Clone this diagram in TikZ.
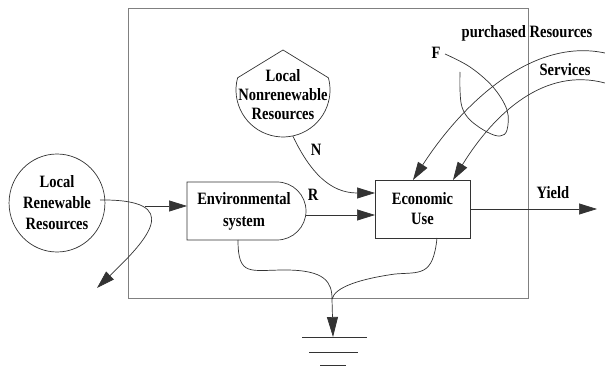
\documentclass[tikz,border=0pt]{standalone}
\usepackage{fontspec}
\setmainfont{Liberation Serif}[FakeStretch=0.84]
\usetikzlibrary{arrows.meta,shapes.geometric}
\begin{document}
\begin{tikzpicture}[x=1pt,y=1pt,
  lbl/.style={font=\fontsize{17.3}{19}\selectfont\bfseries, align=center, inner sep=0pt},
  ln/.style={draw=black!80, line width=0.7pt},
  arr/.style={ln, -{Triangle[length=18pt,width=11pt]}},
  garr/.style={ln, -{Triangle[length=20pt,width=11pt]}}
  ]
\useasboundingbox (0,0) rectangle (605,367);
% frame
\draw[black!50, line width=0.9pt] (128,69) rectangle (528,359);
% renewable source
\node[ellipse, ln, minimum width=86pt, minimum height=98pt, lbl] (ren) at (57,164) {Local\\[2pt]Renewable\\[2pt]Resources};
\coordinate (renE) at (100,167);
\coordinate (branch) at (145,161);
\coordinate (out) at (97,79);
% environmental system
\draw[ln] (187,185) -- (277,185) arc[start angle=90,end angle=-90,radius=29] -- (187,127) -- cycle;
\node[lbl] (env) at (244,156) {Environmental\\[3pt]system};
\coordinate (envW) at (187,161);
\coordinate (envE) at (306,152);
\coordinate (envS) at (238,127);
% nonrenewable tank
\draw[ln] (283,317) -- (237.6,289.2) arc[start angle=165,end angle=375,radius=47] -- cycle;
\node[lbl] (tank) at (283,272) {Local\\Nonrenewable\\Resources};
\coordinate (tankS) at (292.8,231);
% economic use
\node[rectangle, ln, minimum width=95pt, minimum height=58pt, lbl] (eco) at (422.5,158) {Economic\\[1pt]Use};
\coordinate (ecoN) at (375,174);
\coordinate (ecoR) at (375,152);
\coordinate (ecoT1) at (413,187);
\coordinate (ecoT2) at (453,187);
\coordinate (ecoS) at (437,129);
% outside sources
\coordinate (pr) at (605,314);
\coordinate (sv) at (605,284);
\coordinate (yield) at (597,158);
\coordinate (sink) at (332,68);
\coordinate (gnd) at (333,30);
% renewable flows
\draw[arr] (renE) .. controls (185,168) and (148,128) .. (out);
\draw[arr] (branch) -- (envW);
% N and R
\draw[arr] (tankS) .. controls (310,195) and (330,174) .. (ecoN);
\draw[arr] (envE) -- (ecoR);
% purchased
\draw[arr] (pr) .. controls (530,330) and (460,260) .. (ecoT1);
\draw[arr] (sv) .. controls (545,300) and (495,255) .. (ecoT2);
% F loop
\draw[ln] plot[smooth, tension=0.6] coordinates {(445,313) (470,300) (493,280) (507,257) (507,237) (500,231) (487,235) (470,247) (462,260) (460,277) (460,295)};
% yield
\draw[arr] (eco.east) -- (yield);
% sinks
\draw[ln] (envS) .. controls (238,90) and (250,97) .. (285,97) .. controls (325,97) and (332,85) .. (sink);
\draw[ln] (ecoS) .. controls (433,90) and (420,95) .. (395,93) .. controls (360,88) and (335,80) .. (sink);
\draw[garr] (sink) -- (gnd);
\draw[ln] (302,30) -- (367,30);
\draw[ln] (309,15) -- (358,15);
\draw[ln] (320,2) -- (346,2);
% labels
\node[lbl] (lR) at (313,172) {R};
\node[lbl] (lN) at (316,217) {N};
\node[lbl] (lF) at (436,314) {F};
\node[lbl] (lP) at (527,334) {purchased Resources};
\node[lbl] (lS) at (565,297) {Services};
\node[lbl] (lY) at (553,174) {Yield};
\end{tikzpicture}
\end{document}
